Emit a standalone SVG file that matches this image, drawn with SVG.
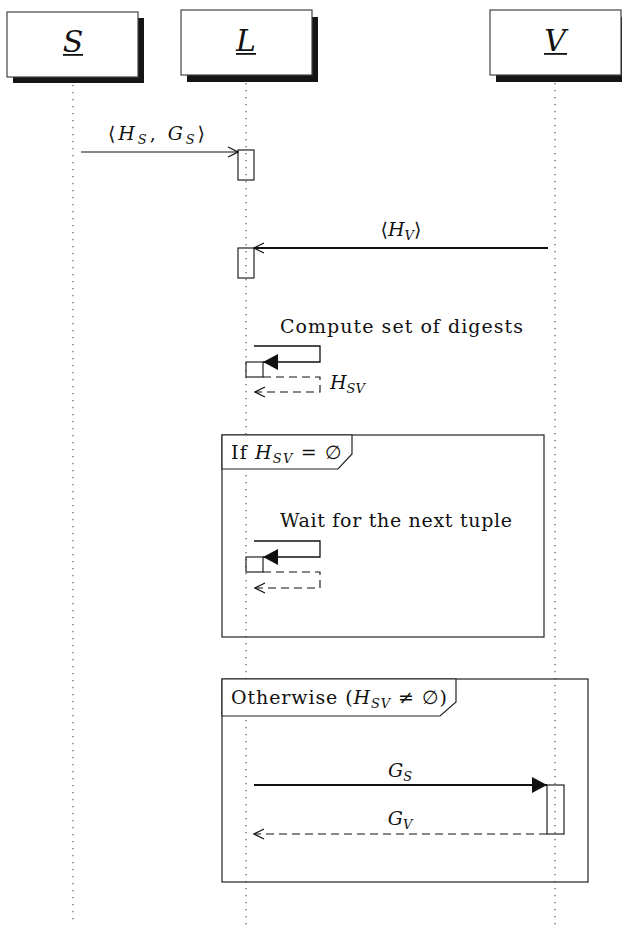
<svg xmlns="http://www.w3.org/2000/svg" width="622" height="929" viewBox="0 0 622 929">
<style>
.box{fill:#fff;stroke:#444;stroke-width:1.2}
.shadow{fill:#151515}
.life{stroke:#555;stroke-width:1.2;stroke-dasharray:1.2 5.8;fill:none}
.act{fill:none;stroke:#222;stroke-width:1.2}
.msg{stroke:#111;fill:none}
.dash{stroke-dasharray:8 5}
.frame{fill:none;stroke:#222;stroke-width:1.2}
.flabel{fill:#fff;stroke:#222;stroke-width:1.2}
.t{font-family:"DejaVu Serif","Liberation Serif",serif;font-size:19px;fill:#111}
.i{font-style:italic}
.s{font-style:italic;font-size:13px}
.nl{font-family:"DejaVu Serif","Liberation Serif",serif;font-size:30px;font-style:italic;fill:#111}
</style>
<defs>
<marker id="open" viewBox="0 0 12 12" refX="11" refY="6" markerWidth="12" markerHeight="12" markerUnits="userSpaceOnUse" orient="auto">
<path d="M1 1 L11 6 L1 11" fill="none" stroke="#111" stroke-width="1.2" stroke-dasharray="none"/>
</marker>
<marker id="fill" viewBox="0 0 15 16" refX="15" refY="8" markerWidth="15" markerHeight="16" markerUnits="userSpaceOnUse" orient="auto">
<path d="M0 0 L15 8 L0 16 Z" fill="#111" stroke="none"/>
</marker>
</defs>

<g id="lifelines">
<line class="life" x1="73" y1="85" x2="73" y2="924"/>
<line class="life" x1="246" y1="83" x2="246" y2="929"/>
<line class="life" x1="555" y1="83" x2="555" y2="929"/>
</g>

<g id="node-S">
<rect class="shadow" x="13" y="18" width="131" height="65"/>
<rect class="box" x="7" y="12" width="131" height="65"/>
<text class="nl" x="73" y="52" text-anchor="middle">S</text>
<rect x="63" y="54" width="20" height="1.8" fill="#111"/>
</g>
<g id="node-L">
<rect class="shadow" x="187" y="17" width="131" height="65"/>
<rect class="box" x="181" y="10" width="131" height="65"/>
<text class="nl" x="246" y="51" text-anchor="middle">L</text>
<rect x="236" y="53" width="20" height="1.8" fill="#111"/>
</g>
<g id="node-V">
<rect class="shadow" x="496" y="17" width="131" height="65"/>
<rect class="box" x="490" y="10" width="131" height="65"/>
<text class="nl" x="555" y="51" text-anchor="middle">V</text>
<rect x="544" y="53" width="23" height="1.8" fill="#111"/>
</g>

<g id="frame-if">
<rect class="frame" x="222" y="435" width="322" height="202"/>
<path class="flabel" d="M222 435 H352 V454 L338 469 H222 Z"/>
<text class="t" x="231" y="459" textLength="111" lengthAdjust="spacing">If <tspan class="i">H</tspan><tspan class="s" dy="4">SV</tspan><tspan dy="-4"> = ∅</tspan></text>
</g>
<g id="frame-otherwise">
<rect class="frame" x="222" y="679" width="366" height="203"/>
<path class="flabel" d="M222 679 H456 V702 L440 716 H222 Z"/>
<text class="t" x="231" y="704" textLength="216" lengthAdjust="spacing">Otherwise (<tspan class="i">H</tspan><tspan class="s" dy="4">SV</tspan><tspan dy="-4"> ≠ ∅)</tspan></text>
</g>

<g id="activations">
<rect class="act" x="238" y="150" width="16" height="30"/>
<rect class="act" x="238" y="248" width="16" height="30"/>
<rect class="act" x="246" y="362" width="17" height="15"/>
<rect class="act" x="246" y="557" width="17" height="15"/>
<rect class="act" x="547" y="785" width="17" height="49"/>
</g>

<g id="connectors">
<line class="msg" x1="81" y1="152" x2="238" y2="152" stroke-width="1.1" marker-end="url(#open)"/>
<line class="msg" x1="548" y1="248" x2="254" y2="248" stroke-width="1.9" marker-end="url(#open)"/>
<path class="msg" d="M254 346 H320 V362 H263" stroke-width="1.3" marker-end="url(#fill)"/>
<path class="msg dash" d="M263 377 H320 V392 H255" stroke-width="1.1" marker-end="url(#open)"/>
<path class="msg" d="M254 541 H320 V557 H263" stroke-width="1.3" marker-end="url(#fill)"/>
<path class="msg dash" d="M263 572 H320 V588 H255" stroke-width="1.1" marker-end="url(#open)"/>
<line class="msg" x1="254" y1="785" x2="547" y2="785" stroke-width="2" marker-end="url(#fill)"/>
<line class="msg dash" x1="547" y1="834" x2="254" y2="834" stroke-width="1.1" marker-end="url(#open)"/>
</g>

<g id="labels">
<text class="t" x="108" y="140" textLength="97" lengthAdjust="spacing">⟨<tspan class="i">H</tspan><tspan class="s" dy="4">S</tspan><tspan dy="-4">, </tspan><tspan class="i">G</tspan><tspan class="s" dy="4">S</tspan><tspan dy="-4">⟩</tspan></text>
<text class="t" x="401" y="236" text-anchor="middle">⟨<tspan class="i">H</tspan><tspan class="s" dy="4">V</tspan><tspan dy="-4">⟩</tspan></text>
<text class="t" x="280" y="333" textLength="243" lengthAdjust="spacing">Compute set of digests</text>
<text class="t" x="330" y="389"><tspan class="i">H</tspan><tspan class="s" dy="4">SV</tspan></text>
<text class="t" x="280" y="527" textLength="232" lengthAdjust="spacing">Wait for the next tuple</text>
<text class="t" x="400" y="777" text-anchor="middle"><tspan class="i">G</tspan><tspan class="s" dy="4">S</tspan></text>
<text class="t" x="400" y="825" text-anchor="middle"><tspan class="i">G</tspan><tspan class="s" dy="4">V</tspan></text>
</g>
</svg>
